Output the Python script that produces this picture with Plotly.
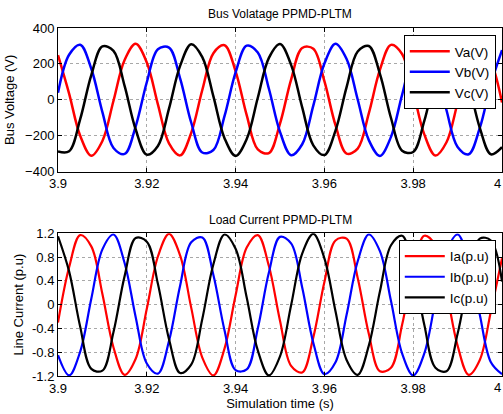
import plotly.graph_objects as go
from plotly.subplots import make_subplots

# time samples (s)
time_s = [3.9000, 3.9025, 3.9050, 3.9075, 3.9100, 3.9125, 3.9150, 3.9175, 3.9200, 3.9225,
          3.9250, 3.9275, 3.9300, 3.9325, 3.9350, 3.9375, 3.9400, 3.9425, 3.9450, 3.9475,
          3.9500, 3.9525, 3.9550, 3.9575, 3.9600, 3.9625, 3.9650, 3.9675, 3.9700, 3.9725,
          3.9750, 3.9775, 3.9800, 3.9825, 3.9850, 3.9875, 3.9900, 3.9925, 3.9950, 3.9975,
          4.0000]

# Bus voltages (V)
va = [249, 35, -200, -311, -229, -5, 222, 312, 208, -25,
      -242, -309, -184, 55, 260, 304, 159, -85, -276, -296,
      -132, 113, 289, 285, 104, -141, -299, -271, -75, 167,
      306, 255, 46, -192, -310, -236, -16, 215, 312, 216,
      -15]
vb = [39, 251, 307, 173, -68, -268, -301, -147, 98, 282,
      291, 120, -126, -293, -279, -91, 153, 302, 264, 62,
      -178, -308, -247, -32, 202, 312, 227, 2, -224, -312,
      -206, 28, 244, 309, 182, -58, -262, -303, -156, 88,
      277]
vc = [-287, -286, -107, 138, 298, 273, 78, -165, -305, -257,
      -49, 189, 310, 238, 19, -213, -312, -218, 12, 234,
      311, 195, -42, -253, -307, -171, 71, 269, 300, 145,
      -101, -283, -290, -117, 129, 295, 278, 88, -156, -303,
      -263]

# Load currents (p.u)
ia = [-0.30, 0.63, 1.17, 0.98, 0.18, -0.72, -1.18, -0.91, -0.07, 0.81,
      1.19, 0.83, -0.05, -0.89, -1.19, -0.74, 0.16, 0.96, 1.17, 0.65,
      -0.27, -1.03, -1.14, -0.55, 0.38, 1.08, 1.11, 0.45, -0.49, -1.12,
      -1.06, -0.34, 0.59, 1.16, 1.00, 0.22, -0.69, -1.18, -0.93, -0.11,
      0.78]
ib = [-0.85, -1.19, -0.79, 0.10, 0.93, 1.18, 0.70, -0.21, -0.99, -1.16,
      -0.61, 0.32, 1.05, 1.13, 0.50, -0.43, -1.10, -1.09, -0.40, 0.54,
      1.14, 1.03, 0.29, -0.64, -1.17, -0.97, -0.17, 0.73, 1.18, 0.90,
      0.06, -0.82, -1.19, -0.82, 0.06, 0.90, 1.18, 0.73, -0.17, -0.97,
      -1.17]
ic = [1.15, 0.56, -0.37, -1.08, -1.11, -0.46, 0.48, 1.12, 1.06, 0.35,
      -0.58, -1.15, -1.01, -0.24, 0.68, 1.18, 0.94, 0.12, -0.77, -1.19,
      -0.87, -0.01, 0.86, 1.19, 0.78, -0.11, -0.93, -1.18, -0.69, 0.22,
      1.00, 1.16, 0.60, -0.34, -1.06, -1.12, -0.49, 0.44, 1.11, 1.08,
      0.39]

x_ticks = [3.9, 3.92, 3.94, 3.96, 3.98, 4.0]
x_ticktext = ["3.9", "3.92", "3.94", "3.96", "3.98", "4"]
v_ticks = [-400, -200, 0, 200, 400]
i_ticks = [-1.2, -0.8, -0.4, 0, 0.4, 0.8, 1.2]
i_ticktext = ["-1.2", "-0.8", "-0.4", "0", "0.4", "0.8", "1.2"]

top_names = ["Va(V)", "Vb(V)", "Vc(V)"]
bot_names = ["Ia(p.u)", "Ib(p.u)", "Ic(p.u)"]
colors = ["#ff0000", "#0000ff", "#000000"]

FONT = "Liberation Sans, Arial, sans-serif"

fig = make_subplots(rows=2, cols=1, shared_xaxes=False)

for name, ys, col in zip(top_names, [va, vb, vc], colors):
    fig.add_trace(go.Scatter(x=time_s, y=ys, mode="lines", name=name,
                             line=dict(color=col, width=2.5, shape="spline"),
                             legend="legend"), row=1, col=1)
for name, ys, col in zip(bot_names, [ia, ib, ic], colors):
    fig.add_trace(go.Scatter(x=time_s, y=ys, mode="lines", name=name,
                             line=dict(color=col, width=2.2, shape="spline"),
                             legend="legend2"), row=2, col=1)

axis_common = dict(showline=True, linecolor="black", linewidth=1, mirror="ticks",
                   ticks="inside", ticklen=4, tickcolor="black",
                   showgrid=True, gridcolor="#a8a8a8", griddash="dot", gridwidth=1,
                   zeroline=False, tickfont=dict(family=FONT, size=13, color="black"))

fig.update_xaxes(**axis_common, range=[3.9, 4.0], tickvals=x_ticks, ticktext=x_ticktext)
fig.update_yaxes(**axis_common)
fig.update_xaxes(domain=[0, 1])
fig.update_yaxes(row=1, col=1, domain=[0.587, 1.0], range=[-400, 400], tickvals=v_ticks,
                 title=dict(text="Bus Voltage (V)", font=dict(family=FONT, size=13, color="black"), standoff=7))
fig.update_yaxes(row=2, col=1, domain=[0.0, 0.410], range=[-1.2, 1.2], tickvals=i_ticks, ticktext=i_ticktext,
                 title=dict(text="Line Current (p.u)", font=dict(family=FONT, size=13, color="black"), standoff=5))
fig.update_xaxes(row=2, col=1,
                 title=dict(text="Simulation time (s)", font=dict(family=FONT, size=13, color="black"), standoff=4))

legend_style = dict(bgcolor="white", bordercolor="black", borderwidth=1,
                    font=dict(family=FONT, size=13.5, color="black"),
                    xanchor="right", yanchor="top", tracegroupgap=0, itemwidth=40)

fig.update_layout(
    width=503, height=414,
    margin=dict(l=58, r=1, t=28, b=38),
    paper_bgcolor="white", plot_bgcolor="white",
    showlegend=True,
    legend=dict(**legend_style, x=0.986, y=0.98),
    legend2=dict(**legend_style, x=0.986, y=0.391),
    annotations=[
        dict(text="Bus Volatage PPMD-PLTM", xref="paper", yref="paper", x=0.5, y=1.0,
             yshift=5, xanchor="center", yanchor="bottom", showarrow=False,
             font=dict(family=FONT, size=12, color="black")),
        dict(text="Load Current PPMD-PLTM", xref="paper", yref="paper", x=0.5, y=0.410,
             yshift=4, xanchor="center", yanchor="bottom", showarrow=False,
             font=dict(family=FONT, size=12, color="black")),
        dict(text="4", xref="x", yref="paper", x=4.0, y=0.587, yshift=-2, xshift=1,
             xanchor="right", yanchor="top", showarrow=False,
             font=dict(family=FONT, size=13, color="black")),
        dict(text="4", xref="x2", yref="paper", x=4.0, y=0.0, yshift=-2, xshift=1,
             xanchor="right", yanchor="top", showarrow=False,
             font=dict(family=FONT, size=13, color="black")),
    ],
)

fig.write_html("out.html", config={"displayModeBar": False},
               post_script="document.body.style.margin='0';document.body.style.overflow='hidden';")
